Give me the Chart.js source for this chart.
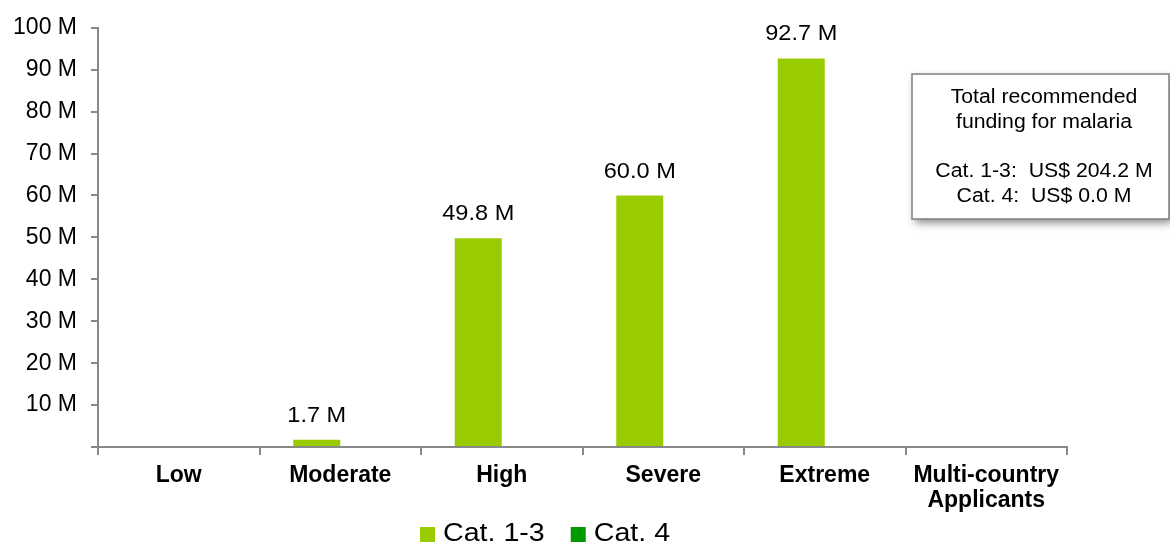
<!DOCTYPE html>
<html>
<head>
<meta charset="utf-8">
<style>
  html, body { margin: 0; padding: 0; background: #ffffff; }
  #wrap { width: 1170px; height: 543px; position: relative; }
</style>
<script src="https://cdn.jsdelivr.net/npm/chart.js@4.4.1/dist/chart.umd.min.js"></script>
</head>
<body>
<div id="wrap"><canvas id="chart"></canvas></div>
<script>
// Recommended malaria funding by disease burden (US$ millions)
const categories = ['Low', 'Moderate', 'High', 'Severe', 'Extreme', ['Multi-country', 'Applicants']];
const cat13Values = [0, 1.7, 49.8, 60.0, 92.7, 0];
const cat4Values = [0, 0, 0, 0, 0, 0];
const seriesNames = ['Cat. 1-3', 'Cat. 4'];
const seriesColors = ['#99CC00', '#009900'];
const yTicks = [0, 10, 20, 30, 40, 50, 60, 70, 80, 90, 100];
const summaryLines = ['Total recommended', 'funding for malaria', '', 'Cat. 1-3:  US$ 204.2 M', 'Cat. 4:  US$ 0.0 M'];

const FONT = '"Liberation Sans", Arial, sans-serif';
const AXIS_GREY = '#898989';
const TEXT_STRETCH = 1.07;

// Draw text slightly widened horizontally, anchored at (x, y) with the given alignment
function drawWide(ctx, text, x, y, align, sx) {
  ctx.save();
  ctx.translate(x, y);
  ctx.scale(sx, 1);
  ctx.textAlign = align;
  ctx.fillText(text, 0, 0);
  ctx.restore();
}

// Value labels above each non-zero bar
const valueLabels = {
  id: 'valueLabels',
  afterDatasetsDraw(chart) {
    const ctx = chart.ctx;
    ctx.save();
    ctx.font = '22px ' + FONT;
    ctx.fillStyle = '#000';
    ctx.textBaseline = 'middle';
    chart.data.datasets.forEach((ds, di) => {
      const meta = chart.getDatasetMeta(di);
      meta.data.forEach((bar, i) => {
        const v = ds.data[i];
        if (!v) return;
        drawWide(ctx, v.toFixed(1) + ' M', bar.x, bar.y - 24, 'center', TEXT_STRETCH);
      });
    });
    ctx.restore();
  }
};

// Summary box on the right with drop shadow
const summaryBox = {
  id: 'summaryBox',
  afterDraw(chart) {
    const ctx = chart.ctx;
    const x = 912, y = 74, w = 257, h = 145;
    ctx.save();
    ctx.shadowColor = 'rgba(0,0,0,0.45)';
    ctx.shadowBlur = 8;
    ctx.shadowOffsetX = 3;
    ctx.shadowOffsetY = 4;
    ctx.fillStyle = '#ffffff';
    ctx.fillRect(x, y, w, h);
    ctx.restore();
    ctx.save();
    ctx.strokeStyle = '#7f7f7f';
    ctx.lineWidth = 1.5;
    ctx.strokeRect(x, y, w, h);
    ctx.font = '19.5px ' + FONT;
    ctx.fillStyle = '#000';
    ctx.textBaseline = 'middle';
    const cx = 1044;
    const ys = [98, 123, 148, 172, 197];
    summaryLines.forEach((t, i) => { if (t) drawWide(ctx, t, cx, ys[i], 'center', 1.09); });
    ctx.restore();
  }
};

// Legend row below the axis
const bottomLegend = {
  id: 'bottomLegend',
  afterDraw(chart) {
    const ctx = chart.ctx;
    ctx.save();
    ctx.font = '26px ' + FONT;
    ctx.textBaseline = 'middle';
    const sx = 1.1;
    let x = 420;
    const yc = 534;
    chart.data.datasets.forEach((ds) => {
      ctx.fillStyle = ds.backgroundColor;
      ctx.fillRect(x, yc - 7, 15, 15);
      ctx.fillStyle = '#000';
      drawWide(ctx, ds.label, x + 23, yc, 'left', sx);
      x += 23 + ctx.measureText(ds.label).width * sx + 26;
    });
    ctx.restore();
  }
};

new Chart(document.getElementById('chart'), {
  type: 'bar',
  data: {
    labels: categories,
    datasets: [
      { label: seriesNames[0], data: cat13Values, backgroundColor: seriesColors[0] },
      { label: seriesNames[1], data: cat4Values, backgroundColor: seriesColors[1] }
    ]
  },
  options: {
    responsive: true,
    maintainAspectRatio: false,
    animation: false,
    devicePixelRatio: 1,
    layout: { padding: { top: 27, right: 103, bottom: 0, left: 0 } },
    datasets: { bar: { categoryPercentage: 0.582, barPercentage: 1.0 } },
    plugins: {
      legend: { display: false },
      tooltip: { enabled: false }
    },
    scales: {
      x: {
        offset: true,
        afterFit(s) { s.height = 96; },
        grid: {
          offset: true,
          drawOnChartArea: false,
          drawTicks: true,
          tickLength: 8,
          color: AXIS_GREY,
          lineWidth: 2
        },
        border: { color: AXIS_GREY, width: 2 },
        ticks: {
          color: '#000',
          padding: 9,
          maxRotation: 0,
          autoSkip: false,
          font: { family: FONT, size: 23, weight: 'bold', lineHeight: 1.05 }
        }
      },
      y: {
        min: 0,
        max: 100,
        afterFit(s) { s.width = 98; },
        afterBuildTicks(s) { s.ticks = yTicks.map(v => ({ value: v })); },
        grid: {
          drawOnChartArea: false,
          drawTicks: true,
          tickLength: 7,
          color: AXIS_GREY,
          lineWidth: 2
        },
        border: { color: AXIS_GREY, width: 2 },
        ticks: {
          color: '#000',
          padding: 14,
          font: { family: FONT, size: 23 },
          callback: (v) => v === 0 ? '' : v + ' M'
        }
      }
    }
  },
  plugins: [valueLabels, summaryBox, bottomLegend]
});
</script>
</body>
</html>
